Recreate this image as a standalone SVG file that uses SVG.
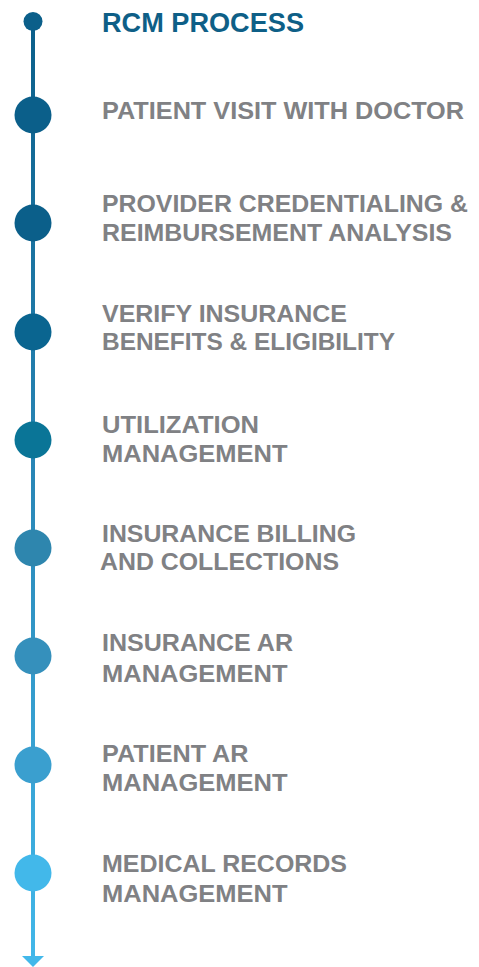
<svg xmlns="http://www.w3.org/2000/svg" width="479" height="967" viewBox="0 0 479 967">
<style>
.t{font-family:"Liberation Sans",Arial,sans-serif;font-weight:700;font-size:24px;fill:#808184}
.h{font-family:"Liberation Sans",Arial,sans-serif;font-weight:700;font-size:27px;fill:#0e5f87}
</style>
<defs>
<linearGradient id="lg" x1="0" y1="21" x2="0" y2="967" gradientUnits="userSpaceOnUse">
<stop offset="0" stop-color="#0b5f8a"/>
<stop offset="0.5" stop-color="#2a88b8"/>
<stop offset="1" stop-color="#42b8ea"/>
</linearGradient>
</defs>
<g id="connectors">
<line x1="33" y1="21" x2="33" y2="958" stroke="url(#lg)" stroke-width="4"/>
<polygon points="22,956 44,956 33,967" fill="#42b8ea"/>
</g>
<g id="title">
<circle cx="33" cy="21.5" r="9.5" fill="#0b5f8a"/>
<text class="h" x="102" y="31.5" textLength="202" lengthAdjust="spacingAndGlyphs">RCM PROCESS</text>
</g>
<g id="step1">
<circle cx="33" cy="115" r="18.5" fill="#0b5f8a"/>
<text class="t" x="102" y="119" textLength="362" lengthAdjust="spacingAndGlyphs">PATIENT VISIT WITH DOCTOR</text>
</g>
<g id="step2">
<circle cx="33" cy="223" r="18.5" fill="#0b5f8a"/>
<text class="t" x="102" y="212" textLength="366" lengthAdjust="spacingAndGlyphs">PROVIDER CREDENTIALING &amp;</text>
<text class="t" x="102" y="241" textLength="350" lengthAdjust="spacingAndGlyphs">REIMBURSEMENT ANALYSIS</text>
</g>
<g id="step3">
<circle cx="33" cy="332" r="18.5" fill="#0a6590"/>
<text class="t" x="102" y="321.5" textLength="245" lengthAdjust="spacingAndGlyphs">VERIFY INSURANCE</text>
<text class="t" x="102" y="350" textLength="293" lengthAdjust="spacingAndGlyphs">BENEFITS &amp; ELIGIBILITY</text>
</g>
<g id="step4">
<circle cx="33" cy="440" r="18.5" fill="#0a7597"/>
<text class="t" x="102" y="433" textLength="157" lengthAdjust="spacingAndGlyphs">UTILIZATION</text>
<text class="t" x="102" y="461.5" textLength="185.5" lengthAdjust="spacingAndGlyphs">MANAGEMENT</text>
</g>
<g id="step5">
<circle cx="33" cy="548" r="18.5" fill="#2e86ae"/>
<text class="t" x="102" y="541.5" textLength="254" lengthAdjust="spacingAndGlyphs">INSURANCE BILLING</text>
<text class="t" x="100" y="570" textLength="239" lengthAdjust="spacingAndGlyphs">AND COLLECTIONS</text>
</g>
<g id="step6">
<circle cx="33" cy="656" r="18.5" fill="#3590bc"/>
<text class="t" x="102" y="651" textLength="191" lengthAdjust="spacingAndGlyphs">INSURANCE AR</text>
<text class="t" x="102" y="681.5" textLength="185.5" lengthAdjust="spacingAndGlyphs">MANAGEMENT</text>
</g>
<g id="step7">
<circle cx="33" cy="765" r="18.5" fill="#3a9fcf"/>
<text class="t" x="102" y="762" textLength="146.5" lengthAdjust="spacingAndGlyphs">PATIENT AR</text>
<text class="t" x="102" y="791" textLength="185.5" lengthAdjust="spacingAndGlyphs">MANAGEMENT</text>
</g>
<g id="step8">
<circle cx="33" cy="873" r="18.5" fill="#42b8ea"/>
<text class="t" x="102" y="871.5" textLength="245" lengthAdjust="spacingAndGlyphs">MEDICAL RECORDS</text>
<text class="t" x="102" y="901.5" textLength="185.5" lengthAdjust="spacingAndGlyphs">MANAGEMENT</text>
</g>
</svg>
